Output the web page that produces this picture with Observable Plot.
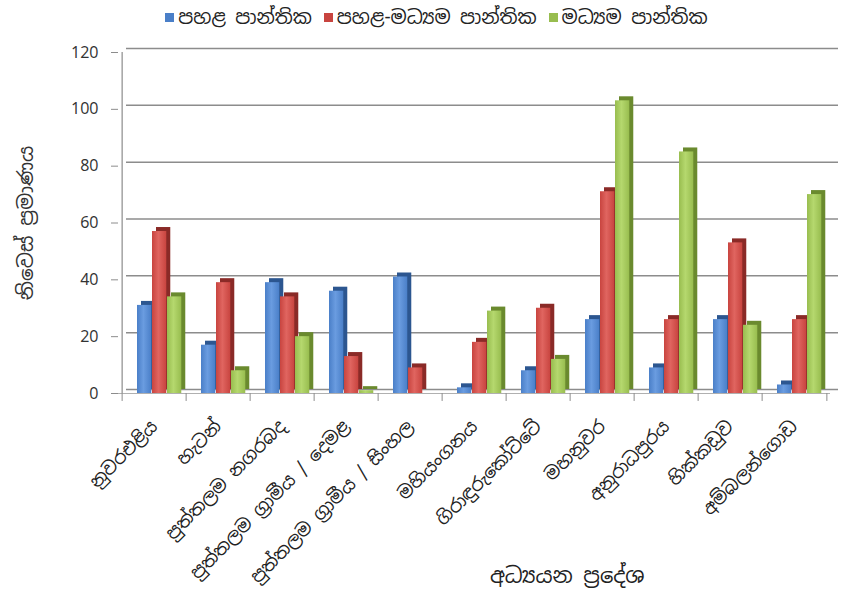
<!DOCTYPE html>
<html>
<head>
<meta charset="utf-8">
<script src="https://cdn.jsdelivr.net/npm/d3@7"></script>
<script src="https://cdn.jsdelivr.net/npm/@observablehq/plot@0.6"></script>
<style>
  body { margin: 0; background: #fff; }
  #wrap { position: relative; width: 849px; height: 606px; font-family: 'Noto Sans Sinhala', 'Iskoola Pota', 'Noto Sans', 'DejaVu Sans', sans-serif; }
  #legend { position: absolute; top: 2px; left: 0; width: 849px; height: 30px; display: flex; justify-content: center; gap: 12px; font-size: 19px; color: #222; padding-left: 24px; box-sizing: border-box; }
  #legend span.item { display: flex; align-items: center; gap: 4px; }
  #legend span.sw { width: 9px; height: 9px; display: inline-block; }
  #chart { position: absolute; top: 32px; left: 0; }
  #xtitle { position: absolute; top: 562px; left: 490px; font-size: 21px; color: #222; }
</style>
</head>
<body>
<div id="wrap">
  <div id="legend"></div>
  <div id="chart"></div>
  <div id="xtitle"></div>
</div>
<script>
const regions = [
  "නුවරඑළිය",
  "හැටන්",
  "පුත්තලම නගරබද",
  "පුත්තලම ග්‍රාමීය / දෙමළ",
  "පුත්තලම ග්‍රාමීය / සිංහල",
  "මහියංගනය",
  "ගිරාඳුරුකෝට්ටේ",
  "මහනුවර",
  "අනුරාධපුරය",
  "හික්කඩුව",
  "අම්බලන්ගොඩ"
];
const series = ["පහළ පාන්තික", "පහළ-මධ්‍යම පාන්තික", "මධ්‍යම පාන්තික"];
const lower = [31, 17, 39, 36, 41, 2, 8, 26, 9, 26, 3];
const lowerMiddle = [57, 39, 34, 13, 9, 18, 30, 71, 26, 53, 26];
const middle = [34, 8, 20, 1, 0, 29, 12, 103, 85, 24, 70];
const yTicks = [0, 20, 40, 60, 80, 100, 120];
const yTitle = "නිවෙස් ප්‍රමාණය";
const xTitle = "අධ්‍යයන ප්‍රදේශ";

const colors = ["#4a7fc8", "#c8443f", "#98bd4f"];
const darks = ["#2c5690", "#8a2a27", "#6a8a2e"];

const values = [lower, lowerMiddle, middle];
const data = regions.flatMap((r, i) => series.map((s, j) => ({region: r, series: s, j, value: values[j][i]})));

const W = 849, H = 574, mL = 118, mR = 19, mT = 20, mB = 213;
const bw = (W - mL - mR) / regions.length;
const barW = 15, gL = 15, depth = 4;

const font = "'Noto Sans Sinhala', 'Iskoola Pota', 'Noto Sans', 'DejaVu Sans', sans-serif";

const barMarks = [];
series.forEach((s, j) => {
  const sub = data.filter(d => d.j === j);
  const iL = gL + j * barW;
  const iR = bw - iL - barW;
  barMarks.push(Plot.barY(sub, {x: "region", y: "value", fill: darks[j], insetLeft: iL + depth, insetRight: iR - depth, dy: -depth}));
  barMarks.push(Plot.barY(sub, {x: "region", y: "value", fill: `url(#grad${j})`, insetLeft: iL, insetRight: iR}));
});

const chart = Plot.plot({
  width: W, height: H,
  marginLeft: mL, marginRight: mR, marginTop: mT, marginBottom: mB,
  style: {fontFamily: font, background: "transparent", overflow: "visible"},
  x: {domain: regions, padding: 0, label: null},
  y: {domain: [0, 120], label: null},
  marks: [
    Plot.ruleY(yTicks, {stroke: "#8c8c8c", strokeWidth: 1.5, dx: 8, dy: -4}),
    Plot.ruleY([0], {stroke: "#b0b0b0", strokeWidth: 1}),
    Plot.ruleX([regions[0]], {dx: -bw / 2, y1: 0, y2: 120, stroke: "#8c8c8c", strokeWidth: 1.2}),
    Plot.ruleX(regions, {dx: -bw / 2, y1: 0, y2: -2.8, stroke: "#8c8c8c"}),
    Plot.ruleX([regions[regions.length - 1]], {dx: bw / 2, y1: 0, y2: -2.8, stroke: "#8c8c8c"}),
    Plot.axisY({ticks: yTicks, tickSize: 7, tickPadding: 13, fontSize: 16, fill: "#333", stroke: "#8c8c8c", label: yTitle, labelAnchor: "center", labelOffset: 100, labelArrow: "none"}),
    ...barMarks,
    Plot.axisX({tickSize: 0, tickPadding: 30, tickRotate: -45, fontSize: 18, fill: "#222", label: null})
  ]
});

// gradients for bar faces
const svgNS = "http://www.w3.org/2000/svg";
const svg = chart.tagName.toLowerCase() === "svg" ? chart : chart.querySelector("svg");
const defs = document.createElementNS(svgNS, "defs");
const lights = ["#6a9ce0", "#e06560", "#b5d86e"];
colors.forEach((c, j) => {
  const g = document.createElementNS(svgNS, "linearGradient");
  g.setAttribute("id", `grad${j}`);
  g.setAttribute("x1", "0"); g.setAttribute("x2", "1"); g.setAttribute("y1", "0"); g.setAttribute("y2", "0");
  [[0, c], [0.45, lights[j]], [1, c]].forEach(([o, col]) => {
    const st = document.createElementNS(svgNS, "stop");
    st.setAttribute("offset", o); st.setAttribute("stop-color", col);
    g.appendChild(st);
  });
  defs.appendChild(g);
});
svg.insertBefore(defs, svg.firstChild);

svg.querySelectorAll("text").forEach(t => {
  if (t.textContent === yTitle) t.setAttribute("font-size", 20);
});

document.getElementById("chart").appendChild(chart);

const legend = document.getElementById("legend");
series.forEach((s, j) => {
  const item = document.createElement("span");
  item.className = "item";
  const sw = document.createElement("span");
  sw.className = "sw";
  sw.style.background = colors[j];
  const tx = document.createElement("span");
  tx.textContent = s;
  item.appendChild(sw); item.appendChild(tx);
  legend.appendChild(item);
});
document.getElementById("xtitle").textContent = xTitle;
</script>
</body>
</html>
